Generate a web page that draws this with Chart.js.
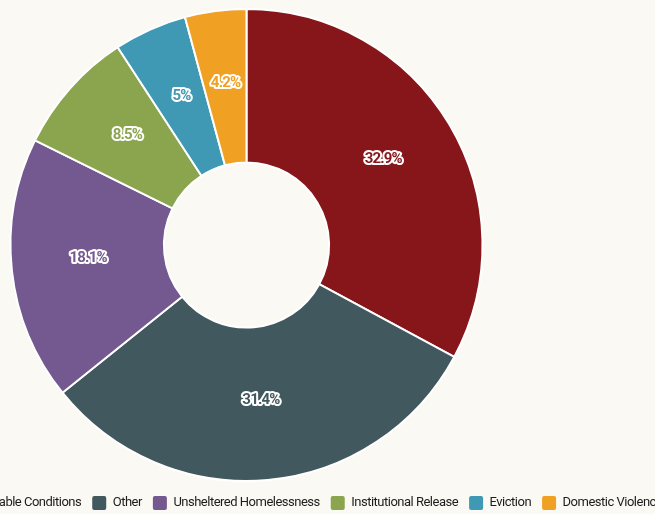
<!DOCTYPE html>
<html>
<head>
<meta charset="utf-8">
<script src="https://cdn.jsdelivr.net/npm/chart.js@4.4.1/dist/chart.umd.min.js"></script>
<style>
  html, body { margin: 0; padding: 0; background: #faf9f3; overflow: hidden; width: 655px; height: 514px; }
  #wrap { position: absolute; left: -72px; top: 0; width: 760px; height: 520px; }
</style>
</head>
<body>
<div id="wrap"><canvas id="chart" width="760" height="520"></canvas></div>
<script>
const categories = ['Unstable Conditions', 'Other', 'Unsheltered Homelessness', 'Institutional Release', 'Eviction', 'Domestic Violence'];
const shares = [32.9, 31.4, 18.1, 8.5, 5, 4.2];
const colors = ['#87161b', '#42585f', '#735990', '#8ba54e', '#3f99b4', '#f0a023'];

// empty box on the right so the doughnut sits left of the legend center
const rightSpacer = {
  id: 'rightSpacer',
  beforeInit(chart) {
    Chart.layouts.addBox(chart, {
      position: 'right',
      weight: 0,
      fullSize: false,
      options: {},
      left: 0, top: 0, right: 0, bottom: 0, width: 0, height: 0,
      isHorizontal() { return false; },
      update(maxWidth, maxHeight) { this.width = 123; this.height = maxHeight; },
      draw() {}
    });
  },
  // tighter letters for the legend text (narrow font look)
  beforeUpdate(chart) { chart.ctx.letterSpacing = '-0.5px'; }
};

const sliceLabels = {
  id: 'sliceLabels',
  afterDatasetsDraw(chart) {
    const ctx = chart.ctx;
    const meta = chart.getDatasetMeta(0);
    ctx.save();
    ctx.font = 'bold 15px Roboto';
    ctx.letterSpacing = '-0.8px';
    ctx.textAlign = 'center';
    ctx.textBaseline = 'alphabetic';
    ctx.lineJoin = 'round';
    ctx.lineWidth = 4;
    meta.data.forEach((arc, i) => {
      const p = arc.tooltipPosition();
      const txt = shares[i] + '%';
      ctx.strokeStyle = '#ffffff';
      ctx.strokeText(txt, p.x, p.y);
      ctx.fillStyle = colors[i];
      ctx.fillText(txt, p.x, p.y);
    });
    ctx.restore();
  }
};

new Chart(document.getElementById('chart'), {
  type: 'doughnut',
  data: {
    labels: categories,
    datasets: [{
      data: shares,
      backgroundColor: colors,
      borderColor: '#ffffff',
      borderWidth: 2,
      hoverOffset: 0
    }]
  },
  plugins: [rightSpacer, sliceLabels],
  options: {
    responsive: false,
    animation: false,
    cutout: '35%',
    layout: { padding: { top: 8 } },
    plugins: {
      tooltip: { enabled: false },
      legend: {
        position: 'bottom',
        title: { display: true, text: '', padding: 0, font: { size: 2, lineHeight: 1.5 } },
        labels: {
          boxWidth: 14,
          boxHeight: 14,
          padding: 11,
          color: '#1c1c1c',
          font: { family: 'Roboto', size: 13 },
          useBorderRadius: true,
          borderRadius: 2,
          generateLabels(chart) {
            return Chart.overrides.doughnut.plugins.legend.labels.generateLabels(chart)
              .map(l => Object.assign(l, { lineWidth: 0 }));
          }
        }
      }
    }
  }
});
</script>
</body>
</html>
